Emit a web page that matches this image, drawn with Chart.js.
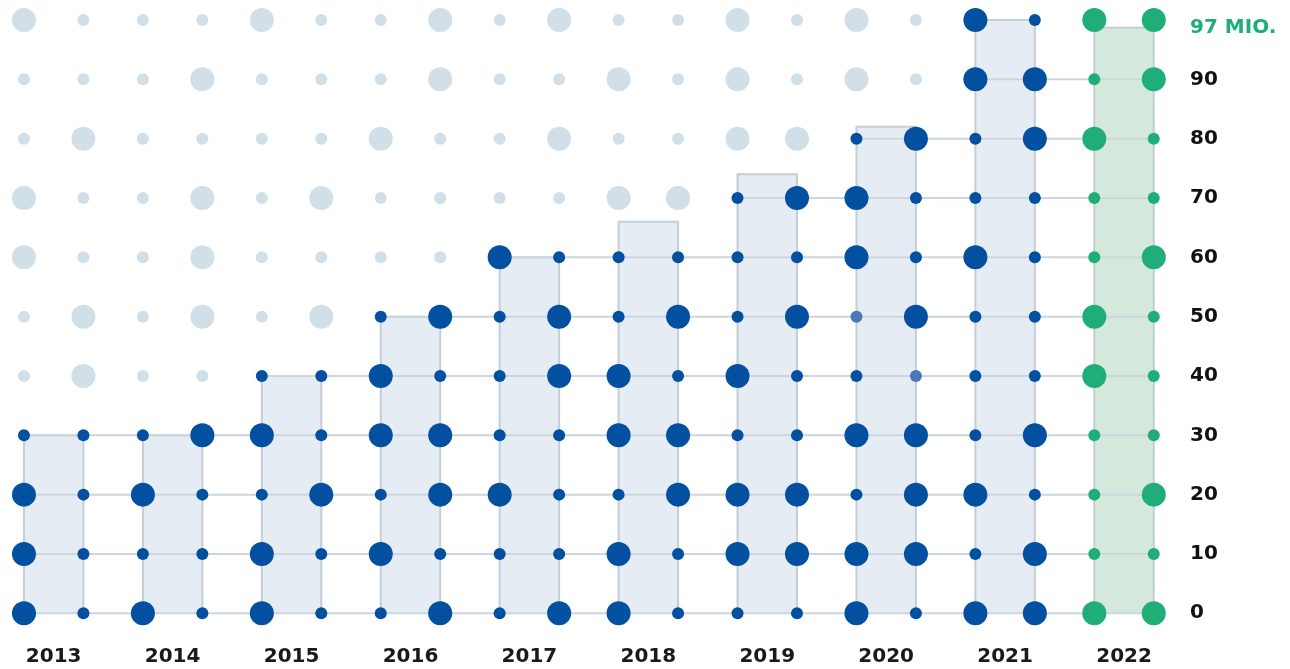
<!DOCTYPE html>
<html>
<head>
<meta charset="utf-8">
<script src="https://cdn.jsdelivr.net/npm/chart.js@4/dist/chart.umd.min.js"></script>
<style>
html,body{margin:0;padding:0;background:#ffffff;}
#wrap{width:1290px;height:669px;position:relative;}
</style>
</head>
<body>
<div id="wrap"><canvas id="c"></canvas></div>
<script>
// ---- data ----
const years = ['2013','2014','2015','2016','2017','2018','2019','2020','2021','2022'];
const barValues = [30, 30, 40, 50, 60, 66, 74, 82, 100, 98.7];
const highlightIndex = 9;
const highlightLabel = '97 MIO.';
const yTickValues = [0, 10, 20, 30, 40, 50, 60, 70, 80, 90];
// dot grid rows (top = 100 ... bottom = 0), 'B' = big dot, 's' = small dot, 2 columns per year
const rowValues = [100, 90, 80, 70, 60, 50, 40, 30, 20, 10, 0];
const dotPattern = [
  'BsssBssBsBssBsBsBsBB',
  'sssBsssBssBsBsBsBBsB',
  'sBssssBssBssBBsBsBBs',
  'BssBsBssssBBsBBsssss',
  'BssBssssBsssssBsBssB',
  'sBsBsBsBsBsBsBsBssBs',
  'sBssssBssBBsBsssssBs',
  'sssBBsBBssBBssBBsBss',
  'BsBssBsBBssBBBsBBssB',
  'BsssBsBsssBsBBBBsBss',
  'BsBsBssBsBBsssBsBBBB'
];
const fadedDots = [[14, 50], [15, 40]];

// ---- styles ----
const C_LIGHT = '#d1dfe8';
const C_DARK = '#02509f';
const C_FADED = '#4c78b8';
const C_GREEN = '#1fae78';
const C_BAR = '#e5ecf3';
const C_BAR_G = '#d4e8dc';
const C_EDGE = '#c3ced8';
const C_LINE = '#ccd6de';
const FONT = {family: 'DejaVu Sans', weight: 'bold', size: 20};

const datasets = [];

// bars (outlined, filled to zero)
barValues.forEach((v, i) => {
  datasets.push({
    type: 'line',
    data: [{x: 2*i, y: 0}, {x: 2*i, y: v}, {x: 2*i+1, y: v}, {x: 2*i+1, y: 0}],
    fill: 'origin',
    backgroundColor: i === highlightIndex ? C_BAR_G : C_BAR,
    borderColor: C_EDGE,
    borderWidth: 2,
    pointRadius: 0,
    tension: 0,
    order: 3,
    clip: false
  });
});

// horizontal grid lines from first bar reaching the level to last column
const lastCol = years.length * 2 - 1;
yTickValues.forEach(r => {
  const first = barValues.findIndex(v => v >= r);
  datasets.push({
    type: 'line',
    data: [{x: 2*first, y: r}, {x: lastCol, y: r}],
    fill: false,
    borderColor: C_LINE,
    borderWidth: 2,
    pointRadius: 0,
    order: 2,
    clip: false
  });
});

// dots
const pts = [], radii = [], colors = [];
rowValues.forEach((r, ri) => {
  for (let c = 0; c < dotPattern[ri].length; c++) {
    const yi = Math.floor(c / 2);
    pts.push({x: c, y: r});
    radii.push(dotPattern[ri][c] === 'B' ? 12 : 6);
    let col;
    if (yi === highlightIndex) col = C_GREEN;
    else if (r <= barValues[yi]) col = C_DARK;
    else col = C_LIGHT;
    if (fadedDots.some(f => f[0] === c && f[1] === r)) col = C_FADED;
    colors.push(col);
  }
});
datasets.push({
  type: 'scatter',
  data: pts,
  pointRadius: radii,
  pointHoverRadius: radii,
  pointBackgroundColor: colors,
  pointBorderWidth: 0,
  showLine: false,
  order: 1,
  clip: false
});

new Chart(document.getElementById('c'), {
  type: 'scatter',
  data: {datasets},
  options: {
    responsive: true,
    maintainAspectRatio: false,
    animation: false,
    events: [],
    layout: {padding: 0, autoPadding: false},
    plugins: {legend: {display: false}, tooltip: {enabled: false}},
    scales: {
      x: {
        type: 'linear',
        min: -0.403,
        max: 19.441,
        grid: {display: false, drawTicks: false},
        border: {display: false},
        afterBuildTicks: s => { s.ticks = years.map((y, i) => ({value: 2*i + 0.5})); },
        afterFit: s => { s.height = 34; s.paddingLeft = 0; s.paddingRight = 0; },
        ticks: {
          autoSkip: false,
          maxRotation: 0,
          padding: 10,
          color: '#1a1a1a',
          font: FONT,
          callback: v => years[Math.round((v - 0.5) / 2)]
        }
      },
      y: {
        type: 'linear',
        position: 'right',
        min: -3.66,
        max: 103.37,
        grid: {display: false, drawTicks: false},
        border: {display: false},
        afterBuildTicks: s => { s.ticks = yTickValues.concat([barValues[highlightIndex]]).map(v => ({value: v})); },
        afterFit: s => { s.width = 110; s.paddingTop = 0; s.paddingBottom = 0; },
        ticks: {
          autoSkip: false,
          padding: 10,
          font: FONT,
          color: ctx => ctx.index === yTickValues.length ? C_GREEN : '#111111',
          callback: (v, i) => i === yTickValues.length ? highlightLabel : String(v)
        }
      }
    }
  }
});
</script>
</body>
</html>
